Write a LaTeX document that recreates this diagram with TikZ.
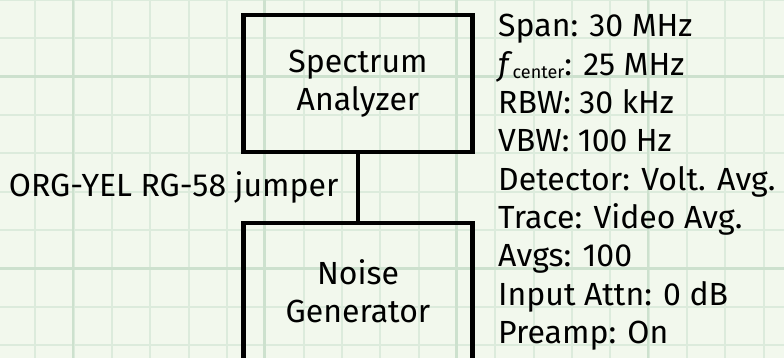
\documentclass[tikz,border=0pt]{standalone}
\usepackage{fontspec}
\setmainfont{Fira Sans}
\usepackage{tikz}
\usetikzlibrary{positioning,calc}
\definecolor{paper}{RGB}{242,248,237}
\definecolor{gridminor}{RGB}{220,235,220}
\definecolor{gridmajor}{RGB}{205,225,206}

\begin{document}
\begin{tikzpicture}[x=1pt, y=1pt,
    instrument/.style={rectangle, draw=black, line width=4.5pt, minimum width=229pt, minimum height=137pt, align=center, font=\fontsize{32}{38.33}\selectfont},
    setting/.style={anchor=base west, inner sep=0pt, font=\fontsize{32}{38.33}\selectfont},
    cable/.style={line width=4.5pt}
]
    \useasboundingbox (0,0) rectangle (784,358);
    \clip (0,0) rectangle (784,358);
    % Graph paper
    \fill[paper] (0,0) rectangle (784,358);
    \foreach \i in {0,...,21} \draw[gridminor, line width=2pt] ({-3+\i*38.33},0) -- ++(0,358);
    \foreach \i in {0,...,9} \draw[gridminor, line width=2pt] (0,{358-\i*38.33}) -- ++(784,0);
    \foreach \i in {0,...,3} \draw[gridmajor, line width=2.6pt] ({73+\i*191.65},0) -- ++(0,358);
    \foreach \i in {0,1} \draw[gridmajor, line width=2.6pt] (0,{358-76.66-\i*191.65}) -- ++(784,0);

    % Spectrum analyzer
    \node[instrument] (sa) at (358,274.5) {Spectrum\\Analyzer};

    % Noise generator
    \node[instrument] (ng) at (358,66.5) {Noise\\Generator};

    % Jumper
    \draw[cable] (sa.south) -- node[anchor=east, xshift=-14pt, font=\fontsize{32}{38.33}\selectfont] (jmp) {ORG-YEL RG-58 jumper} (ng.north);

    % Analyzer settings
    \foreach \t [count=\i] in {Span: 30 MHz, {\textit{f}\raisebox{-3pt}{\fontsize{18}{18}\selectfont center}: 25 MHz}, RBW: 30 kHz, VBW: 100 Hz, Detector: Volt. Avg., Trace: Video Avg., Avgs: 100, Input Attn: 0 dB, Preamp: On}
        \node[setting] (p\i) at (498,{321-(\i-1)*38.33}) {\t};
\end{tikzpicture}
\end{document}
